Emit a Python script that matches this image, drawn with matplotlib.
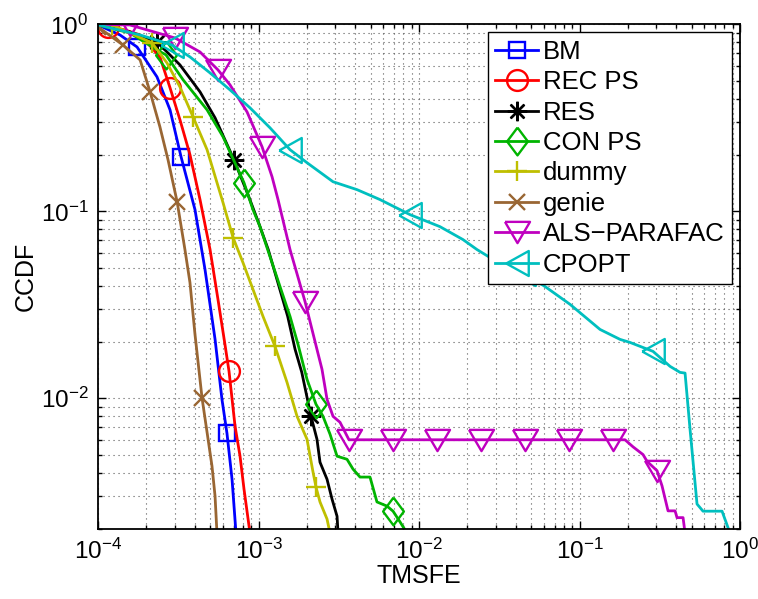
import numpy as np
import matplotlib

matplotlib.use('Agg')
import matplotlib.pyplot as plt
import matplotlib.transforms as mtransforms
from matplotlib.ticker import LogLocator, NullFormatter

plt.rcParams['font.family'] = ['Liberation Sans', 'DejaVu Sans']
plt.rcParams['mathtext.fontset'] = 'custom'
plt.rcParams['mathtext.rm'] = 'Liberation Sans'
plt.rcParams['mathtext.it'] = 'Liberation Sans:italic'
plt.rcParams['mathtext.bf'] = 'Liberation Sans:bold'

# series values (TMSFE, CCDF)
labels = ['BM', 'REC PS', 'RES', 'CON PS', 'dummy', 'genie', 'ALS\u2212PARAFAC', 'CPOPT']

bm_x = [1.0e-4, 1.37e-4, 1.75e-4, 2.33e-4, 2.81e-4, 3.29e-4, 4.02e-4, 4.64e-4, 5.36e-4,
        5.92e-4, 6.36e-4, 6.84e-4, 7.24e-4]
bm_y = [0.993, 0.878, 0.757, 0.524, 0.349, 0.196, 0.102, 0.0489, 0.0207, 0.00986, 0.0065,
        0.00369, 0.0019]
bm_mk = [2, 5, 10]

rec_x = [1.0e-4, 1.154e-4, 1.47e-4, 1.83e-4, 2.43e-4, 2.81e-4, 3.24e-4, 3.74e-4, 4.32e-4,
         4.99e-4, 5.59e-4, 6.18e-4, 6.55e-4, 7.14e-4, 7.67e-4, 8.12e-4, 8.85e-4]
rec_y = [0.993, 0.969, 0.934, 0.878, 0.670, 0.458, 0.309, 0.201, 0.1156, 0.0624, 0.0338,
         0.0194, 0.01394, 0.0071, 0.00491, 0.00327, 0.0019]
rec_mk = [1, 5, 12]

res_x = [1.0e-4, 1.58e-4, 2.33e-4, 3.24e-4, 4.32e-4, 5.36e-4, 7.03e-4, 8.60e-4, 1.0e-3,
         1.15e-3, 1.32e-3, 1.52e-3, 1.69e-3, 1.86e-3, 2.124e-3, 2.313e-3, 2.416e-3, 2.672e-3,
         2.871e-3, 3.085e-3, 3.13e-3]
res_y = [0.993, 0.911, 0.805, 0.607, 0.4356, 0.3164, 0.1888, 0.1228, 0.0871, 0.0624, 0.0416,
         0.0274, 0.01827, 0.01377, 0.00801, 0.00604, 0.00455, 0.00369, 0.00289, 0.00234, 0.0019]
res_mk = [2, 6, 14]

con_x = [1.0e-4, 1.58e-4, 2.33e-4, 2.65e-4, 3.39e-4, 4.78e-4, 6.01e-4, 8.12e-4, 9.24e-4,
         1.022e-3, 1.179e-3, 1.361e-3, 1.572e-3, 1.763e-3, 2.005e-3, 2.281e-3, 2.522e-3,
         2.789e-3, 3.085e-3, 3.559e-3, 3.88e-3, 4.29e-3, 4.95e-3, 5.47e-3, 6.32e-3, 6.89e-3,
         7.62e-3, 8.42e-3]
con_y = [0.993, 0.900, 0.730, 0.687, 0.505, 0.349, 0.2506, 0.1423, 0.102, 0.0828, 0.0573,
         0.0396, 0.0274, 0.0194, 0.01263, 0.00929, 0.00801, 0.00643, 0.0049, 0.00472, 0.00418,
         0.00379, 0.00379, 0.00279, 0.00265, 0.00249, 0.00218, 0.0019]
con_mk = [3, 7, 15, 25]

dum_x = [1.0e-4, 1.222e-4, 1.58e-4, 2.17e-4, 2.69e-4, 3.24e-4, 3.91e-4, 4.78e-4, 6.01e-4,
         6.94e-4, 8.0e-4, 9.24e-4, 1.067e-3, 1.267e-3, 1.505e-3, 1.738e-3, 2.005e-3, 2.186e-3,
         2.281e-3, 2.416e-3, 2.672e-3, 2.789e-3]
dum_y = [1.0, 0.993, 0.900, 0.796, 0.622, 0.463, 0.320, 0.2136, 0.1113, 0.0724, 0.0532,
         0.0382, 0.0274, 0.01895, 0.01217, 0.00801, 0.00604, 0.00403, 0.00335, 0.00279,
         0.00226, 0.0019]
dum_mk = [1, 3, 6, 9, 13, 18]

gen_x = [1.0e-4, 1.43e-4, 1.83e-4, 2.11e-4, 2.43e-4, 2.73e-4, 3.11e-4, 3.48e-4, 3.74e-4,
         4.02e-4, 4.45e-4, 4.85e-4, 5.13e-4, 5.36e-4, 5.51e-4]
gen_y = [0.969, 0.776, 0.645, 0.4356, 0.2833, 0.1888, 0.1126, 0.0624, 0.0416, 0.02197, 0.01,
         0.00604, 0.00434, 0.003, 0.0019]
gen_mk = [0, 1, 3, 6, 10]

als_x = [1.0e-4, 1.58e-4, 3.02e-4, 4.32e-4, 5.59e-4, 6.64e-4, 8.48e-4, 1.052e-3, 1.214e-3,
         1.323e-3, 1.572e-3, 1.949e-3, 2.313e-3, 2.486e-3, 2.672e-3, 2.912e-3, 3.22e-3,
         3.66e-3, 3.99e-3, 6.89e-3, 1.295e-2, 2.435e-2, 4.58e-2, 8.60e-2, 0.1617, 0.192,
         0.2154, 0.2487, 0.2634, 0.304, 0.3266, 0.356, 0.3937, 0.405, 0.4416, 0.4544]
als_y = [1.0, 0.993, 0.846, 0.712, 0.571, 0.475, 0.3405, 0.2215, 0.1532, 0.1156, 0.0624,
         0.0329, 0.01827, 0.01429, 0.00988, 0.00801, 0.00744, 0.006, 0.006, 0.006, 0.006,
         0.006, 0.006, 0.006, 0.006, 0.006, 0.0055, 0.005, 0.0046, 0.0041, 0.0034, 0.0025,
         0.0025, 0.0023, 0.0023, 0.0019]
als_mk = [1, 2, 4, 7, 11, 17, 19, 20, 21, 22, 23, 24, 29]

cp_x = [1.0e-4, 1.83e-4, 2.89e-4, 3.74e-4, 4.99e-4, 6.64e-4, 8.85e-4, 1.179e-3, 1.572e-3,
        2.005e-3, 2.912e-3, 4.11e-3, 5.71e-3, 8.79e-3, 1.351e-2, 1.88e-2, 2.30e-2, 2.77e-2,
        3.96e-2, 4.50e-2, 6.10e-2, 8.73e-2, 0.1342, 0.1788, 0.2063, 0.2871, 0.3664, 0.4229,
        0.4544, 0.4881, 0.5395, 0.588, 0.7726, 0.866]
cp_y = [0.993, 0.878, 0.776, 0.670, 0.550, 0.4465, 0.3579, 0.2798, 0.2136, 0.182, 0.144,
        0.1306, 0.1156, 0.0960, 0.0828, 0.0706, 0.0624, 0.0566, 0.0488, 0.0466, 0.0396,
        0.0318, 0.02335, 0.02066, 0.0199, 0.01782, 0.01482, 0.01376, 0.01364, 0.00683,
        0.00272, 0.00249, 0.00249, 0.0019]
cp_mk = [2, 8, 13, 19, 25]

# matlab-ish marker shapes
tall_diamond = [(0, 1.27), (0.95, 0), (0, -1.27), (-0.95, 0), (0, 1.27)]
wide_tri_down = [(-1, 0.85), (1, 0.85), (0, -0.85), (-1, 0.85)]
tri_left = [(-0.9, 0), (0.9, 1), (0.9, -1), (-0.9, 0)]

series = [
    (bm_x, bm_y, bm_mk, 'b', 's', 12),
    (rec_x, rec_y, rec_mk, 'r', 'o', 15),
    (res_x, res_y, res_mk, 'k', (8, 2, 0), 14),
    (con_x, con_y, con_mk, '#00B400', tall_diamond, 20),
    (dum_x, dum_y, dum_mk, '#BFBF00', '+', 14),
    (gen_x, gen_y, gen_mk, '#996633', 'x', 11),
    (als_x, als_y, als_mk, '#BF00BF', wide_tri_down, 18),
    (cp_x, cp_y, cp_mk, '#00BFBF', tri_left, 18),
]

my_dpi = 100
fig = plt.figure(figsize=(758 / my_dpi, 599 / my_dpi), dpi=my_dpi)
ax = fig.add_axes([0.1293, 0.1169, 0.8470, 0.8424])

for (x, y, mk, col, marker, ms), lab in zip(series, labels):
    ax.plot(x, y, '-', color=col, linewidth=2.0, marker=marker, markersize=ms,
            markevery=mk, markerfacecolor='none', markeredgecolor=col,
            markeredgewidth=1.7, label=lab)

ax.set_xscale('log')
ax.set_yscale('log')
ax.set_xlim([1e-4, 1e0])
ax.set_ylim([2e-3, 1e0])

ax.xaxis.set_major_locator(LogLocator(base=10, numticks=10))
ax.xaxis.set_minor_locator(LogLocator(base=10, subs=np.arange(2, 10), numticks=20))
ax.yaxis.set_minor_locator(LogLocator(base=10, subs=np.arange(2, 10), numticks=20))
ax.xaxis.set_minor_formatter(NullFormatter())
ax.yaxis.set_minor_formatter(NullFormatter())

ax.grid(True, which='both', linestyle=(0, (1, 3.5)), color='0.35', linewidth=0.8)
ax.tick_params(which='both', direction='in', top=True, right=True, labelsize=17.5, width=1.0)
ax.tick_params(which='major', length=6, pad=7)
ax.tick_params(which='minor', length=3)
for sp in ax.spines.values():
    sp.set_linewidth(1.3)

ax.set_xlabel('TMSFE', fontsize=18, labelpad=0)
ax.set_ylabel('CCDF', fontsize=18, labelpad=2)

legend = ax.legend(loc='upper right', fontsize=18.5, fancybox=False, framealpha=1,
                   edgecolor='k', borderaxespad=0.3, labelspacing=0.25, handlelength=1.65,
                   handletextpad=0.2, borderpad=0.3, numpoints=1)
legend.get_frame().set_linewidth(1.0)

# keep the 10^0 label inside the canvas
fig.canvas.draw()
last_lab = ax.get_xticklabels()[-1]
last_lab.set_transform(last_lab.get_transform() +
                       mtransforms.ScaledTranslation(-4 / 72, 0, fig.dpi_scale_trans))

fig.savefig('out.png', dpi=my_dpi)
